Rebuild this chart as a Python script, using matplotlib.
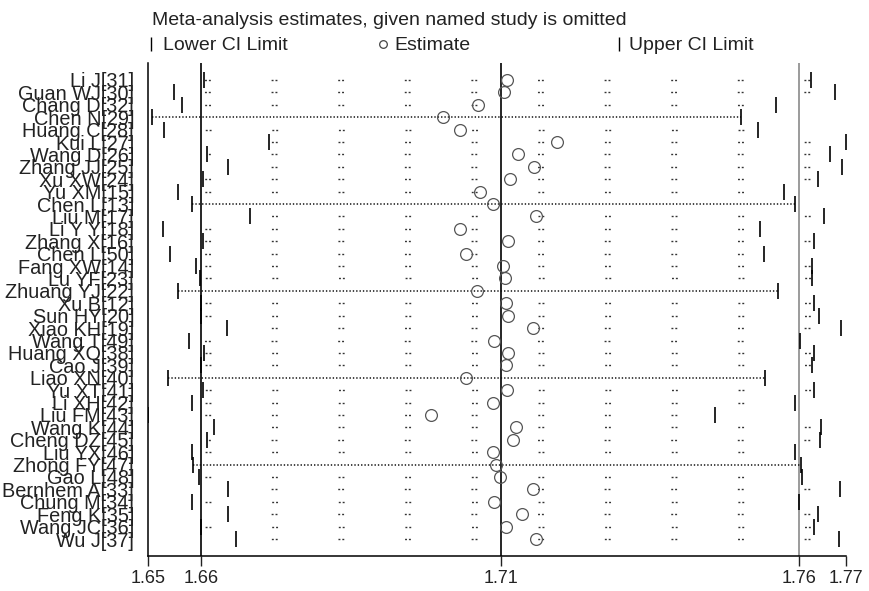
import matplotlib
matplotlib.use("Agg")
import matplotlib.pyplot as plt
from matplotlib.lines import Line2D
import numpy as np

plt.rcParams['font.family'] = ['Liberation Sans', 'DejaVu Sans']

# omitted-study meta-analysis results
studies = ["Li J[31]", "Guan WJ[30]", "Chang D[32]", "Chen N[29]", "Huang C[28]",
           "Kui L[27]", "Wang D[26]", "Zhang JJ[25]", "Xu XW[24]", "Yu XM[15]",
           "Chen L[13]", "Liu M[17]", "Li Y Y[18]", "Zhang X[16]", "Chen L[50]",
           "Fang XW[14]", "Lu YF[23]", "Zhuang YJ[22]", "Xu B[12]", "Sun HY[20]",
           "Xiao KH[19]", "Wang T[49]", "Huang XQ[38]", "Cao J[39]", "Liao XN[40]",
           "Yu XT[41]", "Li XH[42]", "Liu FM[43]", "Wang K[44]", "Cheng DZ[45]",
           "Liu YX[46]", "Zhong FY[47]", "Gao L[48]", "Bernhem A[33]", "Chung M[34]",
           "Feng K[35]", "Wang JC[36]", "Wu J[37]"]
estimate = [1.7110, 1.7105, 1.7061, 1.7004, 1.7032, 1.7193, 1.7128, 1.7156, 1.7116, 1.7065,
            1.7086, 1.7158, 1.7032, 1.7112, 1.7041, 1.7103, 1.7107, 1.7060, 1.7109, 1.7112,
            1.7153, 1.7088, 1.7112, 1.7109, 1.7041, 1.7111, 1.7086, 1.6983, 1.7126, 1.7120,
            1.7086, 1.7092, 1.7098, 1.7153, 1.7089, 1.7136, 1.7109, 1.7159]
lower = [1.6605, 1.6555, 1.6568, 1.6518, 1.6537, 1.6713, 1.6610, 1.6645, 1.6603, 1.6561,
         1.6584, 1.6681, 1.6536, 1.6603, 1.6548, 1.6591, 1.6597, 1.6561, 1.6599, 1.6599,
         1.6643, 1.6580, 1.6604, 1.6599, 1.6544, 1.6602, 1.6584, 1.6511, 1.6621, 1.6610,
         1.6584, 1.6586, 1.6596, 1.6645, 1.6584, 1.6645, 1.6599, 1.6658]
upper = [1.7618, 1.7657, 1.7559, 1.7501, 1.7529, 1.7676, 1.7649, 1.7669, 1.7629, 1.7572,
         1.7591, 1.7639, 1.7532, 1.7623, 1.7539, 1.7620, 1.7620, 1.7562, 1.7622, 1.7631,
         1.7667, 1.7600, 1.7622, 1.7619, 1.7541, 1.7622, 1.7591, 1.7457, 1.7634, 1.7632,
         1.7591, 1.7601, 1.7603, 1.7666, 1.7597, 1.7629, 1.7622, 1.7664]
overall = [1.6600, 1.7100, 1.7597]  # lower, estimate, upper of the full analysis

# rows whose dotted CI line shows up fully in the reference
dense_rows = ["Chen N[29]", "Chen L[13]", "Zhuang YJ[22]", "Liao XN[40]", "Zhong FY[47]"]

W, H = 869, 591
fig = plt.figure(figsize=(W / 100, H / 100), dpi=100)
ax = fig.add_axes([148 / W, 35 / H, 698 / W, 493 / H])

n = len(studies)
y = np.arange(n)
xmin, xmax = min(lower), max(upper)
ax.set_xlim(xmin, xmax)
ax.set_ylim(n - 1 + 1.37, -1.37)

ax.axvline(overall[0], color='black', lw=1.2, zorder=1)
ax.axvline(overall[1], color='black', lw=1.2, zorder=1)
ax.axvline(overall[2], color='#8a8a8a', lw=1.2, zorder=1)

# dotted CI lines; sparse pattern lined up on fixed columns like the original
px_per_pt = 100 / 72
period_px = 66.6
x0 = ax.transData.transform((overall[0], 0))[0] + 3.5
for i, s in enumerate(studies):
    if s in dense_rows:
        ax.plot([lower[i], upper[i]], [i, i], color='#111111', lw=1.1,
                linestyle=(0, (0.9, 1.3)), zorder=2)
    else:
        start = ax.transData.transform((lower[i], i))[0]
        off = ((start - x0) % period_px) / px_per_pt
        ax.plot([lower[i], upper[i]], [i, i], color='#333333', lw=1.0,
                linestyle=(off, (1.4, 1.4, 1.4, period_px / px_per_pt - 4.2)), zorder=2)

ax.plot(lower, y, linestyle='none', marker='|', ms=11, mew=1.2, color='black', zorder=3)
ax.plot(upper, y, linestyle='none', marker='|', ms=11, mew=1.2, color='black', zorder=3)
ax.plot(estimate, y, linestyle='none', marker='o', ms=8.5, mew=0.9,
        mfc='none', mec='#555555', zorder=4)

ticks = [xmin, overall[0], overall[1], overall[2], xmax]
ax.set_xticks(ticks)
ax.set_xticklabels([f"{t:.2f}" for t in ticks])
ax.tick_params(axis='x', length=7, width=1, labelsize=13, pad=3, colors='#222222')
ax.set_yticks(y)
ax.set_yticklabels(studies)
ax.tick_params(axis='y', length=0, labelsize=14.3, pad=10, colors='#222222')

for side in ['top', 'right']:
    ax.spines[side].set_visible(False)
for side in ['left', 'bottom']:
    ax.spines[side].set_linewidth(1.1)

# title and legend row
fig.text(152 / W, 1 - 25 / H, "Meta-analysis estimates, given named study is omitted",
         fontsize=14, va='baseline', color='#222222')
ly = 1 - 43.5 / H
fig.add_artist(Line2D([150.6 / W], [ly], transform=fig.transFigure, marker='|',
                      ms=9.5, mew=1.0, color='black'))
fig.text(163 / W, 1 - 50 / H, "Lower CI Limit", fontsize=14, va='baseline', color='#222222')
fig.add_artist(Line2D([383 / W], [ly], transform=fig.transFigure, marker='o',
                      ms=5.5, mew=0.9, mfc='none', mec='#444444'))
fig.text(394 / W, 1 - 50 / H, "Estimate", fontsize=14, va='baseline', color='#222222')
fig.add_artist(Line2D([619 / W], [ly], transform=fig.transFigure, marker='|',
                      ms=9.5, mew=1.0, color='black'))
fig.text(629 / W, 1 - 50 / H, "Upper CI Limit", fontsize=14, va='baseline', color='#222222')

fig.savefig("out.png", dpi=100)
